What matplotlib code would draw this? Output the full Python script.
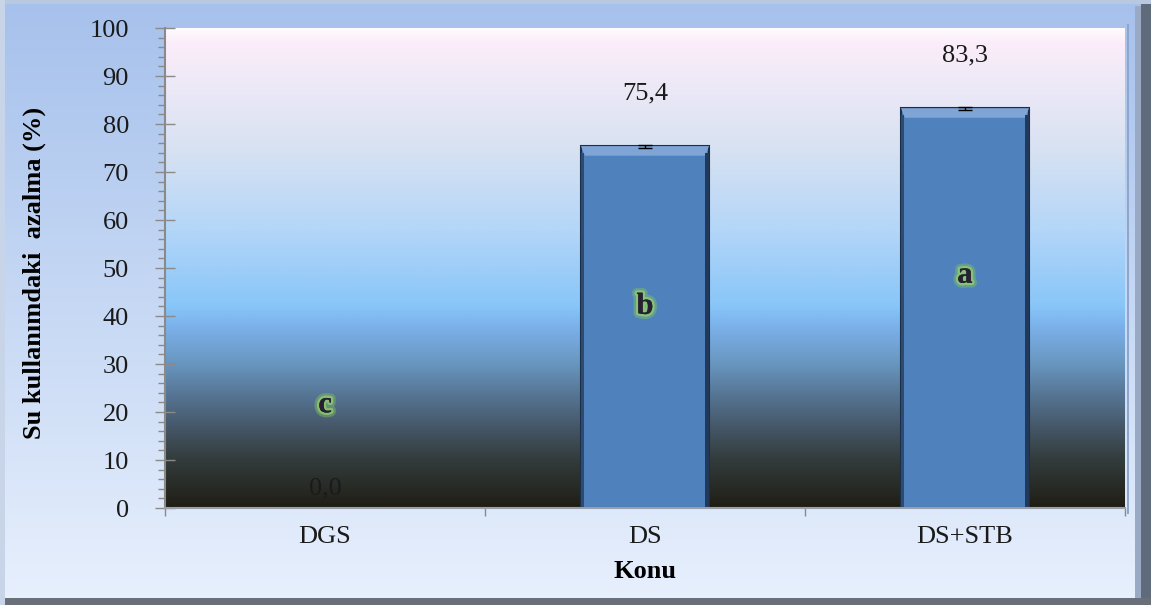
import numpy as np
import matplotlib
matplotlib.use("Agg")
import matplotlib.pyplot as plt
from matplotlib.colors import LinearSegmentedColormap
from matplotlib.patches import Rectangle, Polygon
from matplotlib.ticker import MultipleLocator
import matplotlib.patheffects as pe

# Veriler
konular = ["DGS", "DS", "DS+STB"]
azalma = [0.0, 75.4, 83.3]
hata = [0.0, 0.3, 0.3]
harfler = ["c", "b", "a"]

plt.rcParams['font.family'] = ['Liberation Serif', 'DejaVu Serif']

fig = plt.figure(figsize=(11.51, 6.05), dpi=100)

# Arka plan (çerçeve) gradyanı
bg = fig.add_axes([0, 0, 1, 1], zorder=-10)
bg_cmap = LinearSegmentedColormap.from_list("bg", ["#a6c1ec", "#c6d8f4", "#e8f0fd"])
bg.imshow(np.linspace(0, 1, 256).reshape(-1, 1), cmap=bg_cmap, aspect="auto",
          extent=(0, 1, 0, 1), origin="upper")
bg.set_xlim(0, 1)
bg.set_ylim(0, 1)
bg.axis("off")
# kenar efektleri
bg.add_patch(Rectangle((0.991, 0), 0.009, 1, color="#5f6a7a", lw=0))
bg.add_patch(Rectangle((0.986, 0.01), 0.005, 0.98, color="#9aaac4", lw=0))
bg.add_patch(Rectangle((0, 0), 1, 0.011, color="#6a707a", lw=0))
bg.add_patch(Rectangle((0, 0.993), 1, 0.007, color="#b8c8e0", lw=0))
bg.add_patch(Rectangle((0, 0), 0.004, 1, color="#c8d4e8", lw=0))
bg.add_patch(Rectangle((0.979, 0.15), 0.002, 0.81, color="#8ea6cc", lw=0))

ax = fig.add_axes([0.1434, 0.1603, 0.834, 0.7934])

# Çizim alanı gradyanı
stops = [(0.00, "#201e16"), (0.10, "#333c3c"), (0.17, "#46586a"), (0.24, "#587898"),
         (0.30, "#6896c0"), (0.38, "#7cb2ec"), (0.42, "#88c6f8"), (0.58, "#b4d6f8"),
         (0.75, "#d8e2f2"), (0.97, "#fcedfa"), (1.00, "#fefcfe")]
pa_cmap = LinearSegmentedColormap.from_list("pa", stops)
ax.imshow(np.linspace(0, 1, 512).reshape(-1, 1), cmap=pa_cmap, aspect="auto",
          extent=(-0.5, 2.5, 0, 100), origin="lower", zorder=0)

x = np.arange(len(konular))
bars = ax.bar(x, azalma, width=0.40, color="#4f81bd", edgecolor="#1c2f48",
              linewidth=1.5, zorder=2)
ax.errorbar(x[1:], azalma[1:], yerr=hata[1:], fmt="none", ecolor="black",
            elinewidth=1, capsize=5, capthick=1, zorder=3)

# Çubuklara kabartma efekti
for b in bars:
    h = b.get_height()
    if h <= 0:
        continue
    x0, w = b.get_x(), b.get_width()
    d = 0.012
    ax.add_patch(Polygon([(x0, h), (x0 + w, h), (x0 + w - d, h - 2.0), (x0 + d, h - 2.0)],
                         closed=True, color="#7fa4d6", lw=0, zorder=2.5))
    ax.add_patch(Rectangle((x0 + w - d, 0), d, h - 1.5, color="#22395a", lw=0, zorder=2.5))
    ax.add_patch(Rectangle((x0, 0), d * 0.7, h - 1.5, color="#2d4a72", lw=0, zorder=2.5))

# Değer etiketleri
for xi, v in zip(x, azalma):
    yl = v + 11 if v > 0 else 4
    ax.text(xi, yl, f"{v:.1f}".replace(".", ","), ha="center", va="center",
            fontsize=19, color="#1a1a1a", zorder=4)

# Harfler
harf_konum = [21.5, 42, 48.5]
for xi, hrf, yh in zip(x, harfler, harf_konum):
    ax.text(xi, yh, hrf, ha="center", va="center", fontsize=22, fontweight="bold",
            color="#262030", zorder=4,
            path_effects=[pe.withStroke(linewidth=7, foreground="#7fc060", alpha=0.45),
                          pe.withStroke(linewidth=3.5, foreground="#96d272", alpha=0.7),
                          pe.Normal()])

ax.set_xlim(-0.5, 2.5)
ax.set_ylim(0, 100)
ax.set_yticks(range(0, 101, 10))
ax.yaxis.set_minor_locator(MultipleLocator(2))
ax.tick_params(axis="y", which="major", direction="inout", length=14, width=1,
               color="#8a8a8a", labelsize=19, pad=19, labelcolor="#1a1a1a")
ax.tick_params(axis="y", which="minor", direction="out", length=5, width=1,
               color="#8a8a8a")
ax.set_xticks(x)
ax.set_xticklabels(konular)
ax.set_xticks([-0.5, 0.5, 1.5, 2.5], minor=True)
ax.tick_params(axis="x", which="major", length=0, labelsize=19, pad=13,
               labelcolor="#1a1a1a")
ax.tick_params(axis="x", which="minor", direction="out", length=6, width=1,
               color="#8a8a8a")

for s in ["top", "right"]:
    ax.spines[s].set_visible(False)
ax.spines["left"].set_color("#8a8a8a")
ax.spines["left"].set_linewidth(1.5)
ax.spines["bottom"].set_color("#9aa0aa")
ax.spines["bottom"].set_linewidth(1.5)

ax.set_ylabel("Su kullanımdaki  azalma (%)", fontsize=19, fontweight="bold")
ax.yaxis.set_label_coords(-0.136, 0.49)
ax.set_xlabel("Konu", fontsize=19, fontweight="bold")
ax.xaxis.set_label_coords(0.5, -0.133)
ax.xaxis.label.set_va("center")
ax.yaxis.label.set_va("center")

fig.savefig("out.png", dpi=100)
